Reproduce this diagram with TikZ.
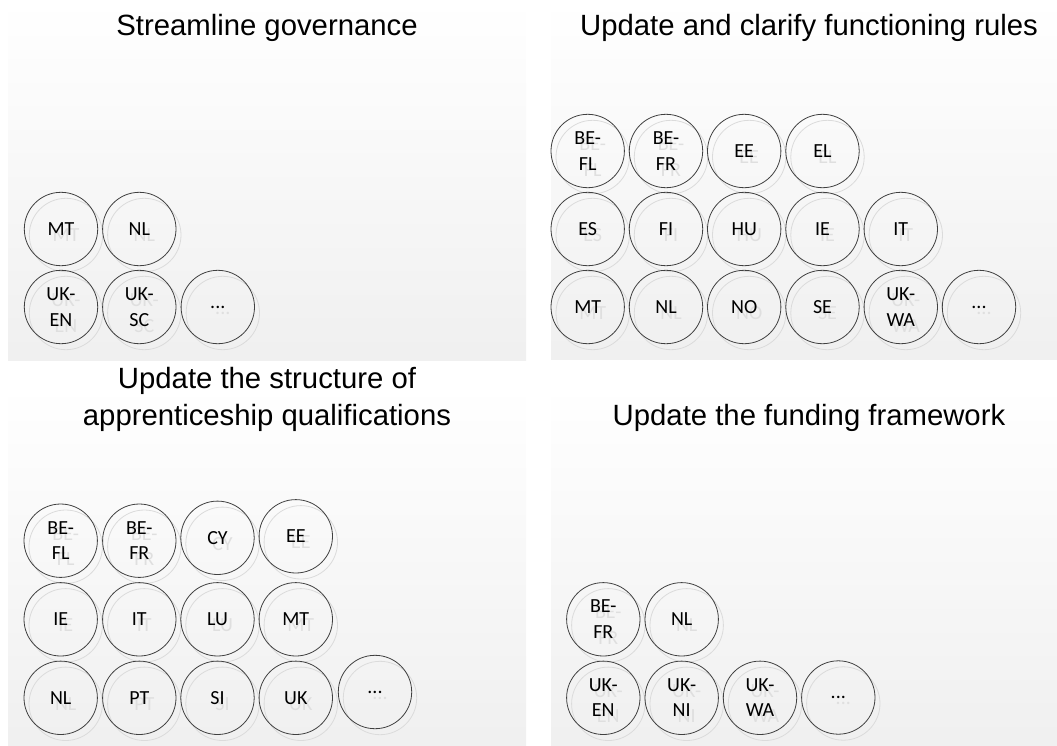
\documentclass[tikz,border=0pt]{standalone}
\usepackage{fontspec}
\setmainfont{Carlito}
\newfontfamily\titlefont{Liberation Sans}
\tikzset{
  panel/.style={top color=white, bottom color=gray!12, draw=none},
  ptitle/.style={font=\titlefont\fontsize{29.3}{36.5}\selectfont, align=center, anchor=base, inner sep=0pt},
  ctry/.style={circle, draw=black!75, line width=0.8pt, minimum size=73.4pt, inner sep=0pt, align=center,
    font=\fontsize{20}{25.5}\selectfont, text=black},
  ghost/.style={circle, draw=gray!28, line width=0.8pt, minimum size=73.4pt, inner sep=0pt, align=center,
    font=\fontsize{20}{25.5}\selectfont, text=gray!25},
}
\newcommand\ctynode[4]{%
  \node[ghost] (#1g) at ([shift={(5,6)}]#2,#3) {#4};
  \node[ctry] (#1) at (#2,#3) {#4};
}
\begin{document}
\begin{tikzpicture}[x=1pt,y=-1pt]
\useasboundingbox (0,0) rectangle (1057,745);
% panels
\fill[panel] (8,0) rectangle (526,360);
\fill[panel] (551,0) rectangle (1057,359);
\fill[panel] (8,385) rectangle (526,745);
\fill[panel] (551,385) rectangle (1057,745);
% titles
\node[ptitle] (t1) at (267,35) {Streamline governance};
\node[ptitle] (t2) at (809,35) {Update and clarify functioning rules};
\node[ptitle] (t3) at (267,425) {Update the structure of\\apprenticeship qualifications};
\node[ptitle] (t4) at (809,425) {Update the funding framework};
% panel 1
\ctynode{aMT}{61}{229}{MT}
\ctynode{aNL}{139.3}{229}{NL}
\ctynode{aUKEN}{61}{307}{UK-\\EN}
\ctynode{aUKSC}{139.3}{307}{UK-\\SC}
\ctynode{aDots}{217.8}{307}{...}
% panel 2
\ctynode{bBEFL}{587.7}{151}{BE-\\FL}
\ctynode{bBEFR}{666}{151}{BE-\\FR}
\ctynode{bEE}{744.2}{151}{EE}
\ctynode{bEL}{822.5}{151}{EL}
\ctynode{bES}{587.7}{229}{ES}
\ctynode{bFI}{666}{229}{FI}
\ctynode{bHU}{744.2}{229}{HU}
\ctynode{bIE}{822.5}{229}{IE}
\ctynode{bIT}{900.8}{229}{IT}
\ctynode{bMT}{587.7}{307}{MT}
\ctynode{bNL}{666}{307}{NL}
\ctynode{bNO}{744.2}{307}{NO}
\ctynode{bSE}{822.5}{307}{SE}
\ctynode{bUKWA}{900.8}{307}{UK-\\WA}
\ctynode{bDots}{979}{307}{...}
% panel 3
\ctynode{cBEFL}{60.7}{540.7}{BE-\\FL}
\ctynode{cBEFR}{139.3}{540.7}{BE-\\FR}
\ctynode{cCY}{217.5}{537.8}{CY}
\ctynode{cEE}{295.8}{536.3}{EE}
\ctynode{cIE}{60.7}{619.3}{IE}
\ctynode{cIT}{139.3}{619.3}{IT}
\ctynode{cLU}{217.5}{619.3}{LU}
\ctynode{cMT}{295.8}{619.3}{MT}
\ctynode{cNL}{60.7}{697.8}{NL}
\ctynode{cPT}{139.3}{697.8}{PT}
\ctynode{cSI}{217.5}{697.8}{SI}
\ctynode{cUK}{295.8}{697.8}{UK}
\ctynode{cDots}{375}{692}{...}
% panel 4
\ctynode{dBEFR}{603.3}{619.3}{BE-\\FR}
\ctynode{dNL}{681.7}{619.3}{NL}
\ctynode{dUKEN}{603.3}{697.8}{UK-\\EN}
\ctynode{dUKNI}{681.7}{697.8}{UK-\\NI}
\ctynode{dUKWA}{760}{697.8}{UK-\\WA}
\ctynode{dDots}{838.3}{697.5}{...}
\end{tikzpicture}
\end{document}
